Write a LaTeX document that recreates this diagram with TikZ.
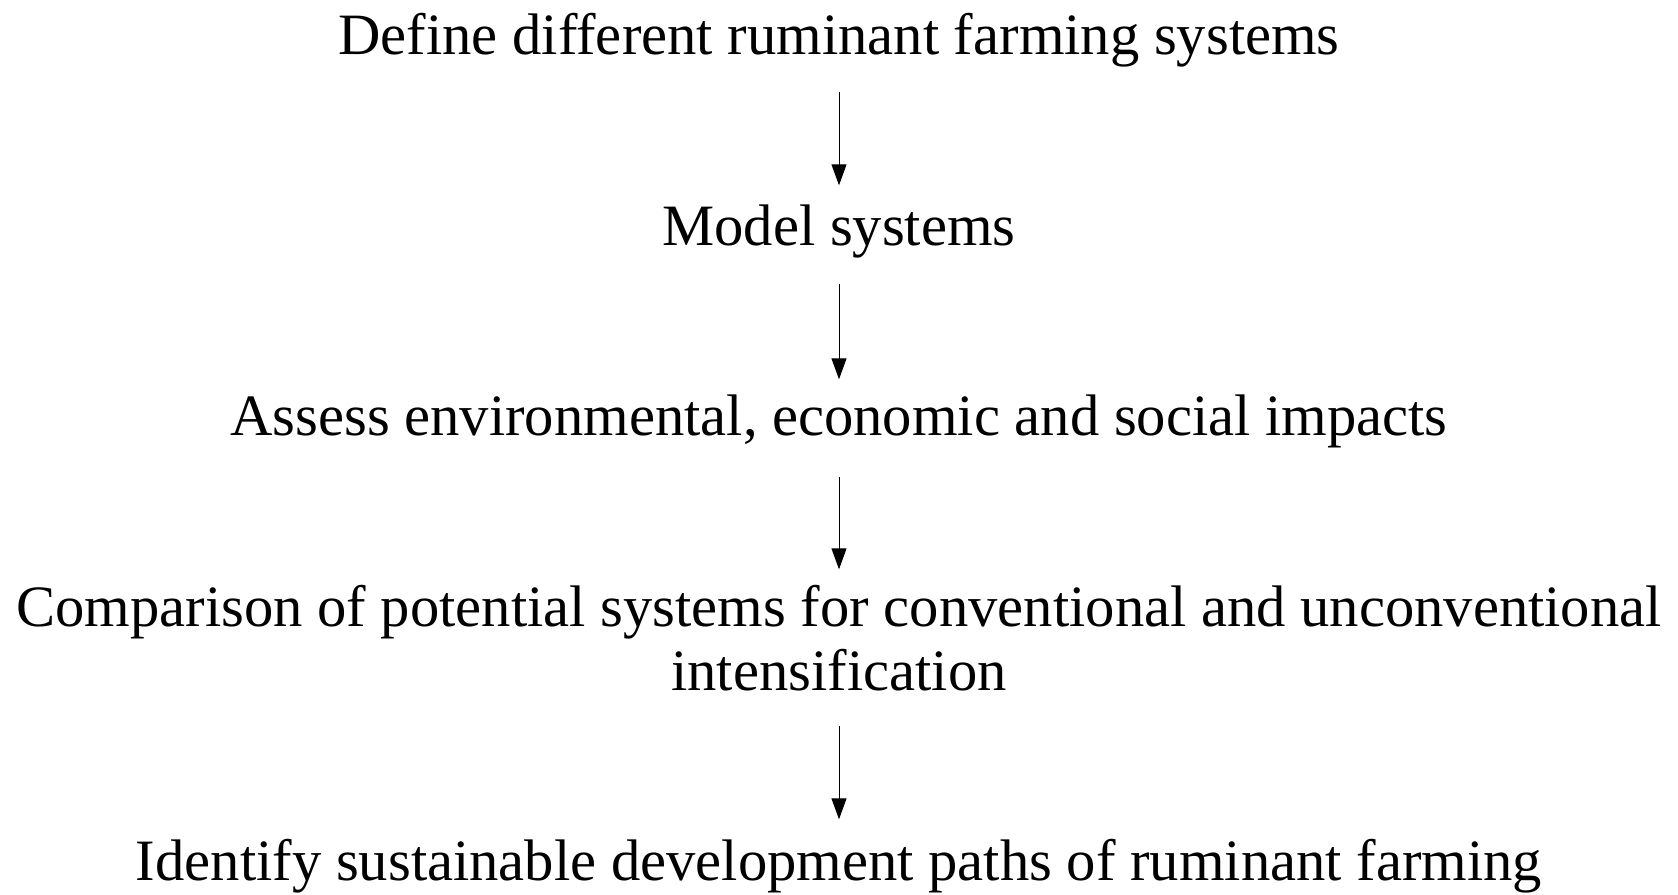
\documentclass[tikz,border=0pt]{standalone}
\usepackage{fontspec}
\setmainfont{Liberation Serif}
\usetikzlibrary{arrows.meta}
\begin{document}
\begin{tikzpicture}[x=1pt,y=1pt,
  stage/.style={anchor=base,inner sep=0pt,text height=0pt,text depth=0pt,
    font=\fontsize{58.6}{63.3}\selectfont,align=center},
  flow/.style={line width=1pt,-{Triangle[width=15pt,length=21pt]}}]
  \useasboundingbox (0,0) rectangle (1678,-894);
  % node anchors sit on the baseline of the (last) text line
  \node[stage] (define) at (839,-54) {Define different ruminant farming systems};
  \node[stage] (model) at (839,-245) {Model systems};
  \node[stage] (assess) at (839,-435) {Assess environmental, economic and social impacts};
  \node[stage] (compare) at (839,-690) {Comparison of potential systems for conventional and unconventional\\intensification};
  \node[stage] (identify) at (839,-880) {Identify sustainable development paths of ruminant farming};
  \draw[flow,shorten <=37.5pt,shorten >=59pt] (define.south) -- (model.north);
  \draw[flow,shorten <=38.6pt,shorten >=55pt] (model.south) -- (assess.north);
  \draw[flow,shorten <=41pt,shorten >=120pt] (assess.south) -- (compare.north);
  \draw[flow,shorten <=35pt,shorten >=60pt] (compare.south) -- (identify.north);
\end{tikzpicture}
\end{document}
